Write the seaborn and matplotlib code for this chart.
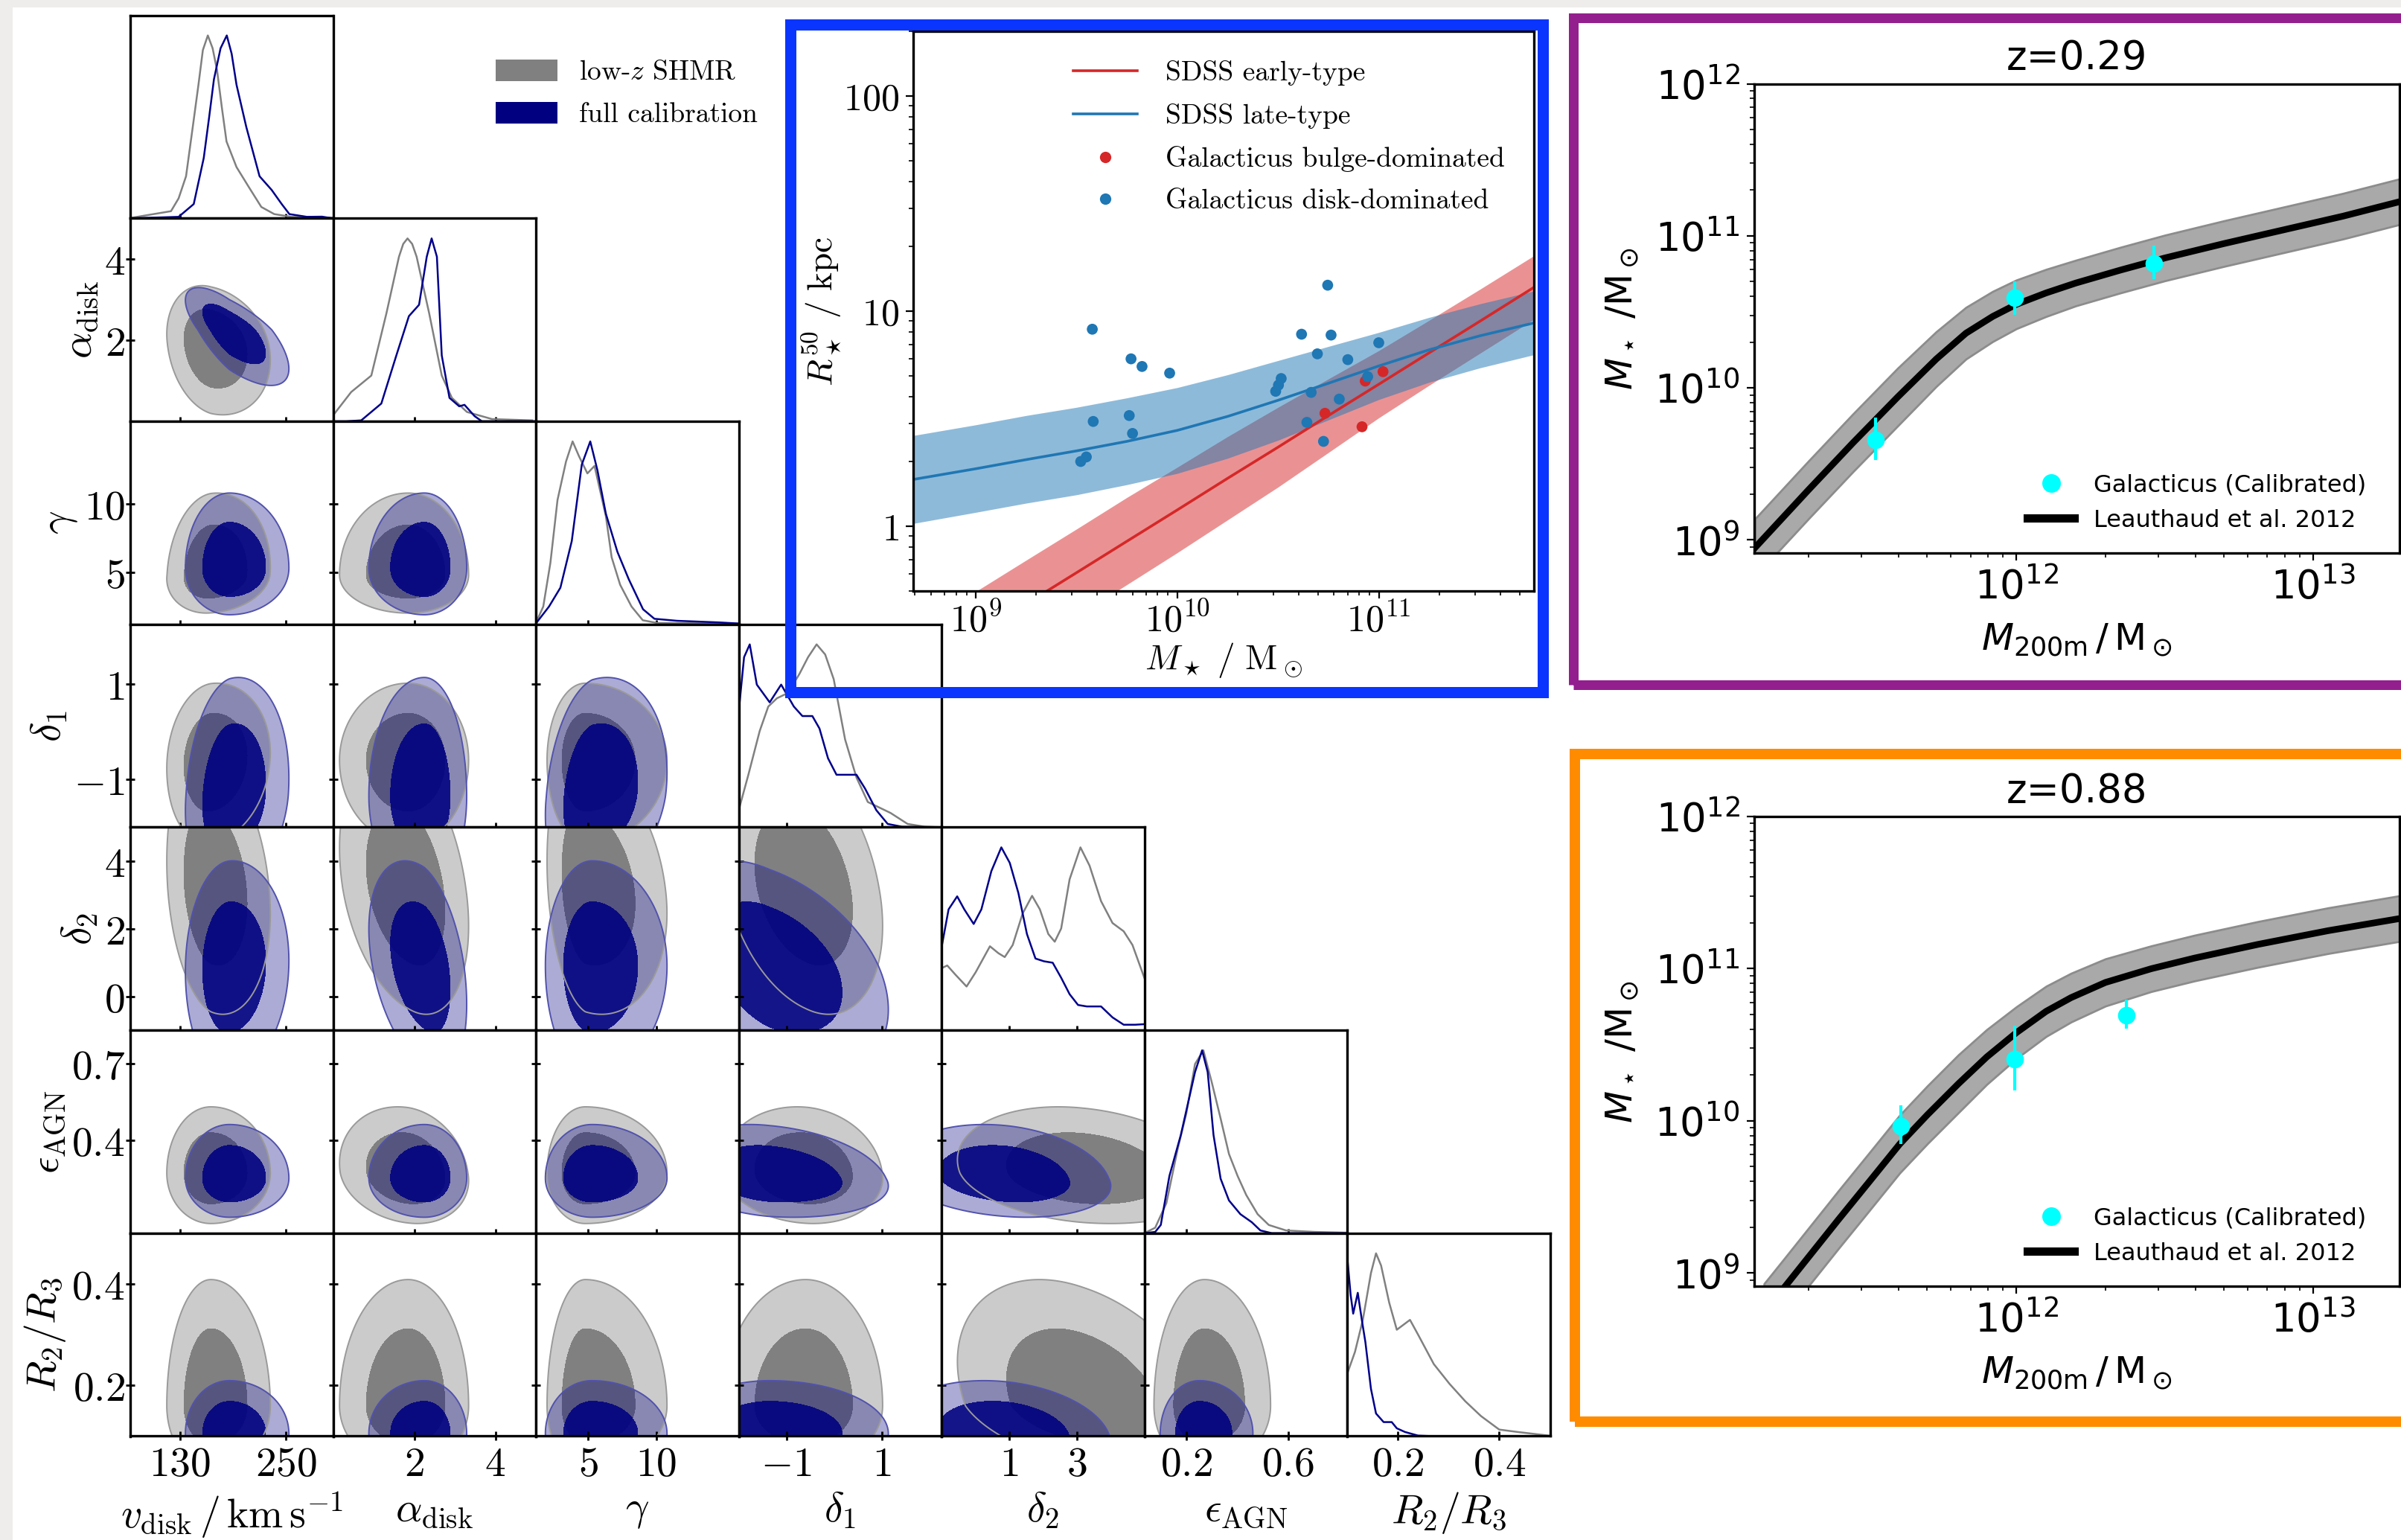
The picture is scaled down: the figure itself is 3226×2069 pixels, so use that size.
import numpy as np
import matplotlib
matplotlib.use("Agg")
import matplotlib.pyplot as plt
import seaborn as sns
from matplotlib.patches import Rectangle, Patch
from matplotlib.lines import Line2D
from matplotlib import ticker

plt.rcParams["mathtext.fontset"] = "cm"
plt.rcParams["axes.linewidth"] = 1.2

W, H, DPI = 3226, 2069, 200

# ---------------- corner plot: parameters ----------------
X_LABELS = [r"$v_{\mathrm{disk}}\,/\,\mathrm{km\,s^{-1}}$", r"$\alpha_{\mathrm{disk}}$", r"$\gamma$",
            r"$\delta_1$", r"$\delta_2$", r"$\epsilon_{\mathrm{AGN}}$", r"$R_2/R_3$"]
LIMITS = [(74, 303), (0, 5), (1.2, 16), (-2, 2.25), (-1, 5), (0.033, 0.833), (0.1, 0.5)]
X_TICKS = [[130, 250], [2, 4], [5, 10], [-1, 1], [1, 3], [0.2, 0.6], [0.2, 0.4]]
Y_TICKS = [[], [2, 4], [5, 10], [-1, 1], [0, 2, 4], [0.4, 0.7], [0.2, 0.4]]

# 2D posterior summaries: (mode, sigma below, sigma above)
LOWZ_SUMMARY = [(165, 20, 27), (1.85, 0.68, 0.6), (4.8, 1.12, 2.4), (-0.6, 0.7, 0.65),
                (3.2, 1.5, 1.6), (0.27, 0.08, 0.105), (0.16, 0.05, 0.1)]
FULL_SUMMARY = [(186, 20, 27), (2.25, 0.55, 0.42), (5.3, 1.37, 2.2), (-1.35, 0.8, 1.0),
                (0.9, 1.3, 1.25), (0.25, 0.062, 0.085), (0.105, 0.04, 0.042)]

# correlation of each lower-triangle pair (row parameter vs column parameter)
LOWZ_RHO = [[-0.2],
            [0.1, 0.0],
            [0.1, 0.0, 0.0],
            [-0.2, -0.3, -0.2, -0.3],
            [0.0, -0.15, 0.0, -0.1, -0.2],
            [0.0, 0.0, 0.0, 0.0, -0.35, 0.0]]
FULL_RHO = [[-0.7],
            [0.0, 0.0],
            [0.15, 0.0, 0.2],
            [0.05, -0.35, 0.0, -0.4],
            [0.0, 0.0, 0.0, -0.2, -0.2],
            [0.0, 0.0, 0.0, 0.0, -0.2, 0.0]]

# 1D marginals (peak normalised)
VDISK_LOWZ_X = [75.7, 120, 128.6, 137, 144.6, 151, 156, 161.6, 167, 172, 177.6, 182.7, 194, 208, 222, 236.6, 256, 302]
VDISK_LOWZ_Y = [0.003, 0.039, 0.109, 0.23, 0.5, 0.73, 0.92, 1.0, 0.93, 0.81, 0.6, 0.42, 0.28, 0.17, 0.062, 0.023, 0.008, 0.003]
VDISK_FULL_X = [75.7, 128.6, 145.7, 157, 163, 168.5, 176, 183, 188.5, 194, 205, 220, 233.7, 245, 253.7, 273.5, 290.6, 302]
VDISK_FULL_Y = [0.0, 0.008, 0.078, 0.33, 0.55, 0.76, 0.93, 1.0, 0.9, 0.73, 0.5, 0.23, 0.155, 0.078, 0.023, 0.008, 0.009, 0.0]

ALPHA_LOWZ_X = [0, 0.447, 0.943, 1.315, 1.625, 1.73, 1.836, 1.95, 2.06, 2.37, 2.68, 2.93, 3.3, 3.92, 4.91]
ALPHA_LOWZ_Y = [0.032, 0.16, 0.25, 0.59, 0.9, 0.97, 1.0, 0.97, 0.9, 0.59, 0.25, 0.128, 0.051, 0.012, 0.005]
ALPHA_FULL_X = [0, 0.32, 0.695, 1.19, 1.56, 1.87, 2.12, 2.31, 2.43, 2.56, 2.68, 2.87, 3.11, 3.24, 3.49, 3.67, 5]
ALPHA_FULL_Y = [0, 0, 0.005, 0.097, 0.36, 0.575, 0.637, 0.9, 1.0, 0.9, 0.36, 0.128, 0.082, 0.09, 0.028, 0, 0]

GAMMA_LOWZ_X = [1.2, 1.74, 2.26, 2.78, 3.4, 3.88, 4.34, 4.96, 5.48, 6.31, 6.73, 7.35, 8.18, 9.0, 10.05, 15.9]
GAMMA_LOWZ_Y = [0.007, 0.097, 0.336, 0.68, 0.89, 1.0, 0.92, 0.825, 0.866, 0.59, 0.366, 0.216, 0.097, 0.022, 0.007, 0.004]
GAMMA_FULL_X = [1.2, 2.16, 2.99, 3.82, 4.55, 5.17, 5.69, 6.31, 7.15, 7.98, 9.02, 9.85, 11.5, 14.6, 16]
GAMMA_FULL_Y = [0.004, 0.097, 0.2, 0.455, 0.873, 1.0, 0.843, 0.604, 0.396, 0.246, 0.082, 0.03, 0.019, 0.01, 0.004]

DELTA1_LOWZ_X = [-2, -1.797, -1.56, -1.38, -1.2, -0.963, -0.724, -0.546, -0.367, -0.188, -0.009, 0.23, 0.468, 0.706, 0.945, 1.183, 1.54, 1.9, 2.25]
DELTA1_LOWZ_Y = [0.093, 0.287, 0.526, 0.66, 0.705, 0.735, 0.84, 0.93, 1.0, 0.945, 0.81, 0.48, 0.272, 0.138, 0.108, 0.078, 0.018, 0.003, 0]
DELTA1_FULL_X = [-2, -1.887, -1.768, -1.62, -1.35, -1.11, -0.844, -0.665, -0.456, -0.307, -0.128, 0.05, 0.23, 0.468, 0.647, 0.885, 1.123, 1.42, 2.25]
DELTA1_FULL_Y = [0.63, 0.93, 1.0, 0.78, 0.683, 0.78, 0.66, 0.608, 0.608, 0.54, 0.377, 0.287, 0.287, 0.287, 0.212, 0.093, 0.018, 0.003, 0]

DELTA2_LOWZ_X = [-1, -0.83, -0.579, -0.258, 0.011, 0.433, 0.685, 0.871, 1.107, 1.40, 1.68, 1.91, 2.16, 2.35, 2.54, 2.79, 3.11, 3.38, 3.72, 4.06, 4.39, 4.65, 5]
DELTA2_LOWZ_Y = [0.339, 0.354, 0.302, 0.239, 0.317, 0.459, 0.421, 0.4, 0.466, 0.638, 0.735, 0.661, 0.526, 0.484, 0.556, 0.825, 1.0, 0.9, 0.706, 0.586, 0.541, 0.466, 0.287]
DELTA2_FULL_X = [-1, -0.79, -0.536, -0.326, -0.048, 0.18, 0.475, 0.77, 1.02, 1.275, 1.528, 1.78, 2.03, 2.29, 2.54, 2.79, 3.04, 3.3, 3.72, 4.06, 4.39, 4.73, 5]
DELTA2_FULL_Y = [0.451, 0.661, 0.732, 0.661, 0.581, 0.661, 0.87, 1.0, 0.915, 0.75, 0.526, 0.392, 0.377, 0.369, 0.287, 0.197, 0.138, 0.13, 0.13, 0.07, 0.03, 0.03, 0.033]

EPS_LOWZ_X = [0.033, 0.076, 0.12, 0.165, 0.199, 0.233, 0.266, 0.3, 0.334, 0.367, 0.401, 0.435, 0.48, 0.524, 0.592, 0.704, 0.827]
EPS_LOWZ_Y = [0, 0.03, 0.164, 0.463, 0.657, 0.925, 1.0, 0.82, 0.627, 0.433, 0.313, 0.209, 0.104, 0.045, 0.015, 0.007, 0.003]
EPS_FULL_X = [0.033, 0.076, 0.098, 0.132, 0.177, 0.199, 0.233, 0.261, 0.283, 0.306, 0.334, 0.367, 0.412, 0.457, 0.491, 0.536, 0.833]
EPS_FULL_Y = [0, 0.007, 0.045, 0.313, 0.537, 0.672, 0.881, 1.0, 0.881, 0.537, 0.298, 0.179, 0.104, 0.06, 0.015, 0, 0]

R23_LOWZ_X = [0.1, 0.1155, 0.131, 0.147, 0.157, 0.167, 0.183, 0.198, 0.211, 0.224, 0.24, 0.271, 0.302, 0.333, 0.364, 0.4, 0.436, 0.498]
R23_LOWZ_Y = [0.34, 0.461, 0.636, 0.892, 1.0, 0.933, 0.73, 0.582, 0.609, 0.636, 0.555, 0.394, 0.286, 0.191, 0.11, 0.036, 0.023, 0.003]
R23_FULL_X = [0.1, 0.107, 0.112, 0.121, 0.129, 0.136, 0.147, 0.157, 0.172, 0.188, 0.198, 0.214, 0.24, 0.27, 0.5]
R23_FULL_Y = [0.987, 0.771, 0.67, 0.784, 0.636, 0.515, 0.259, 0.124, 0.077, 0.077, 0.043, 0.023, 0.003, 0, 0]

# ---------------- size-mass inset ----------------
SDSS_LOGM = [8.69, 9.0, 9.25, 9.5, 9.75, 10.0, 10.25, 10.5, 10.75, 11.0, 11.25, 11.5, 11.77]
EARLY_MED = [0.205, 0.310, 0.435, 0.608, 0.851, 1.19, 1.67, 2.33, 3.27, 4.57, 6.40, 8.95, 12.9]
EARLY_LO = [0.128, 0.194, 0.272, 0.381, 0.535, 0.753, 1.07, 1.52, 2.20, 3.19, 4.52, 6.35, 9.16]
EARLY_HI = [0.327, 0.497, 0.695, 0.970, 1.36, 1.88, 2.61, 3.57, 4.84, 6.55, 9.06, 12.6, 18.1]
LATE_MED = [1.65, 1.85, 2.04, 2.24, 2.48, 2.79, 3.24, 3.85, 4.62, 5.56, 6.61, 7.67, 8.81]
LATE_LO = [1.03, 1.16, 1.28, 1.40, 1.56, 1.76, 2.07, 2.51, 3.12, 3.88, 4.67, 5.44, 6.27]
LATE_HI = [2.64, 2.96, 3.27, 3.57, 3.95, 4.41, 5.06, 5.89, 6.85, 7.96, 9.35, 10.8, 12.4]

BULGE_MSTAR = [5.41e10, 8.57e10, 1.05e11, 8.26e10]
BULGE_R50 = [3.35, 4.73, 5.23, 2.90]
DISK_MSTAR = [3.79e9, 5.90e9, 6.69e9, 9.17e9, 3.83e9, 5.78e9, 6.00e9, 3.54e9, 3.32e9, 5.58e10, 4.14e10, 5.80e10,
              4.96e10, 1.0e11, 7.02e10, 3.28e10, 3.18e10, 3.08e10, 4.62e10, 8.81e10, 6.37e10, 4.40e10, 5.32e10]
DISK_R50 = [8.24, 6.0, 5.53, 5.15, 3.07, 3.27, 2.70, 2.10, 2.0, 13.2, 7.81, 7.74,
            6.33, 7.13, 5.95, 4.86, 4.53, 4.24, 4.19, 4.96, 3.90, 3.04, 2.48]

# ---------------- SHMR panels (log10 values) ----------------
L12_LOGMH_Z029 = [11.12, 11.3, 11.45, 11.6, 11.73, 11.83, 11.92, 12.0, 12.1, 12.2, 12.35, 12.5, 12.7, 12.9, 13.1, 13.3]
L12_LOGMS_Z029 = [8.95, 9.33, 9.64, 9.94, 10.19, 10.36, 10.47, 10.55, 10.625, 10.69, 10.775, 10.855, 10.95, 11.04, 11.13, 11.23]
L12_WIDTH_Z029 = [0.19, 0.19, 0.19, 0.19, 0.18, 0.17, 0.165, 0.16, 0.155, 0.15, 0.15, 0.15, 0.15, 0.15, 0.15, 0.15]
GAL_LOGMH_Z029 = [11.526, 11.994, 12.463]
GAL_LOGMS_Z029 = [9.660, 10.591, 10.820]
GAL_LO_Z029 = [9.528, 10.482, 10.717]
GAL_HI_Z029 = [9.807, 10.702, 10.937]

L12_LOGMH_Z088 = [11.15, 11.22, 11.4, 11.5, 11.607, 11.7, 11.805, 11.9, 12.0, 12.1, 12.184, 12.3, 12.454, 12.6, 12.814, 13.05, 13.292]
L12_LOGMS_Z088 = [8.74, 8.91, 9.35, 9.59, 9.848, 10.04, 10.245, 10.42, 10.58, 10.72, 10.81, 10.91, 11.0, 11.07, 11.16, 11.25, 11.33]
L12_WIDTH_Z088 = [0.19, 0.19, 0.19, 0.19, 0.19, 0.19, 0.19, 0.18, 0.17, 0.165, 0.16, 0.155, 0.15, 0.15, 0.15, 0.15, 0.15]
GAL_LOGMH_Z088 = [11.611, 11.994, 12.369]
GAL_LOGMS_Z088 = [9.966, 10.406, 10.694]
GAL_LO_Z088 = [9.848, 10.2, 10.606]
GAL_HI_Z088 = [10.104, 10.626, 10.796]

LOWZ_1D = [(VDISK_LOWZ_X, VDISK_LOWZ_Y), (ALPHA_LOWZ_X, ALPHA_LOWZ_Y), (GAMMA_LOWZ_X, GAMMA_LOWZ_Y),
           (DELTA1_LOWZ_X, DELTA1_LOWZ_Y), (DELTA2_LOWZ_X, DELTA2_LOWZ_Y), (EPS_LOWZ_X, EPS_LOWZ_Y),
           (R23_LOWZ_X, R23_LOWZ_Y)]
FULL_1D = [(VDISK_FULL_X, VDISK_FULL_Y), (ALPHA_FULL_X, ALPHA_FULL_Y), (GAMMA_FULL_X, GAMMA_FULL_Y),
           (DELTA1_FULL_X, DELTA1_FULL_Y), (DELTA2_FULL_X, DELTA2_FULL_Y), (EPS_FULL_X, EPS_FULL_Y),
           (R23_FULL_X, R23_FULL_Y)]

GREY_LINE = "#808080"
NAVY = "#000080"
L95 = np.exp(-0.5 * 6.18)
L68 = np.exp(-0.5 * 2.30)


def split_density(xg, yg, sx, sy, rho):
    """2D split-normal built from the read summaries."""
    u = np.where(xg < sx[0], (xg - sx[0]) / sx[1], (xg - sx[0]) / sx[2])
    v = np.where(yg < sy[0], (yg - sy[0]) / sy[1], (yg - sy[0]) / sy[2])
    q = (u * u - 2 * rho * u * v + v * v) / (1 - rho * rho)
    return np.exp(-0.5 * q)


def fig_rect(x0, y0, x1, y1):
    return [x0 / W, 1 - y1 / H, (x1 - x0) / W, (y1 - y0) / H]


def tex(v):
    return r"$%g$" % v


fig = plt.figure(figsize=(W / DPI, H / DPI), dpi=DPI, facecolor="#eeedeb")
fig.add_artist(Rectangle((17 / W, 0), 1, 1 - 10 / H, transform=fig.transFigure,
                         facecolor="white", edgecolor="none", zorder=-10))

# ---------------- corner plot ----------------
CX0, CY0, CW, CH = 175.0, 20.6, 272.5, 272.7
for j in range(7):
    for i in range(j + 1):
        ax = fig.add_axes(fig_rect(CX0 + CW * i, CY0 + CH * j, CX0 + CW * (i + 1), CY0 + CH * (j + 1)))
        if i == j:
            sns.lineplot(x=LOWZ_1D[i][0], y=LOWZ_1D[i][1], ax=ax, color=GREY_LINE, lw=0.9,
                         sort=False, estimator=None)
            sns.lineplot(x=FULL_1D[i][0], y=FULL_1D[i][1], ax=ax, color="#00008b", lw=0.9,
                         sort=False, estimator=None)
            ax.set_ylim(0, 1.11)
            ax.set_yticks([])
        else:
            xg = np.linspace(LIMITS[i][0], LIMITS[i][1], 220)
            yg = np.linspace(LIMITS[j][0], LIMITS[j][1], 220)
            XX, YY = np.meshgrid(xg, yg)
            dg = split_density(XX, YY, LOWZ_SUMMARY[i], LOWZ_SUMMARY[j], LOWZ_RHO[j - 1][i])
            db = split_density(XX, YY, FULL_SUMMARY[i], FULL_SUMMARY[j], FULL_RHO[j - 1][i])
            ax.contourf(XX, YY, dg, levels=[L95, L68, 2], colors=["#cbcbcb", "#808080"])
            ax.contour(XX, YY, dg, levels=[L95], colors="#9a9a9a", linewidths=0.7)
            ax.contourf(XX, YY, db, levels=[L95, 2], colors=[NAVY], alpha=0.33)
            ax.contour(XX, YY, db, levels=[L95], colors="#5252ad", linewidths=0.7)
            ax.contourf(XX, YY, db, levels=[L68, 2], colors=[NAVY], alpha=0.88)
            ax.set_ylim(LIMITS[j])
            ax.set_yticks(Y_TICKS[j])
            if i == 0:
                ax.set_yticklabels([tex(t) for t in Y_TICKS[j]])
                ax.set_ylabel(X_LABELS[j], fontsize=20, labelpad=2)
            else:
                ax.set_yticklabels([])
        ax.set_xlim(LIMITS[i])
        ax.set_xticks(X_TICKS[i])
        if j == 6:
            ax.set_xticklabels([tex(t) for t in X_TICKS[i]])
            ax.set_xlabel(X_LABELS[i], fontsize=20, labelpad=2.5)
        else:
            ax.set_xticklabels([])
        ax.tick_params(direction="inout", length=4.2, width=1.0, labelsize=20)
        ax.tick_params(axis="x", pad=2)
        ax.tick_params(axis="y", pad=0.5)
        for s in ax.spines.values():
            s.set_linewidth(1.2)
            s.set_color("black")

fig.legend([Patch(facecolor="#808080"), Patch(facecolor=NAVY)],
           ["low-$z$ SHMR", "full calibration"],
           loc="upper left", bbox_to_anchor=(666 / W, 1 - 80 / H), frameon=False,
           prop={"family": "cmr10", "size": 13.5}, handlelength=2.2, handleheight=0.8,
           handletextpad=0.8, labelspacing=0.6, borderpad=0, borderaxespad=0)

# ---------------- size-mass inset ----------------
ax = fig.add_axes(fig_rect(1227, 42, 2061, 794))
ax.set_xscale("log")
ax.set_yscale("log")
sdss_m = 10 ** np.array(SDSS_LOGM)
ax.fill_between(sdss_m, EARLY_LO, EARLY_HI, color="#d62728", alpha=0.5, lw=0)
ax.fill_between(sdss_m, LATE_LO, LATE_HI, color="#1f77b4", alpha=0.5, lw=0)
sns.lineplot(x=sdss_m, y=EARLY_MED, ax=ax, color="#d62728", lw=1.3, estimator=None)
sns.lineplot(x=sdss_m, y=LATE_MED, ax=ax, color="#1f77b4", lw=1.3, estimator=None)
sns.scatterplot(x=BULGE_MSTAR, y=BULGE_R50, ax=ax, color="#d62728", s=28, edgecolor="none", zorder=4)
sns.scatterplot(x=DISK_MSTAR, y=DISK_R50, ax=ax, color="#1f77b4", s=28, edgecolor="none", zorder=4)
ax.set_xlim(10 ** 8.69, 10 ** 11.77)
ax.set_ylim(0.5, 200)
ax.xaxis.set_major_locator(ticker.FixedLocator([1e9, 1e10, 1e11]))
ax.xaxis.set_major_formatter(ticker.FuncFormatter(lambda v, p: r"$10^{%d}$" % round(np.log10(v))))
ax.yaxis.set_major_locator(ticker.FixedLocator([1, 10, 100]))
ax.yaxis.set_major_formatter(ticker.FuncFormatter(lambda v, p: r"$%g$" % v))
ax.xaxis.set_minor_formatter(ticker.NullFormatter())
ax.yaxis.set_minor_formatter(ticker.NullFormatter())
ax.tick_params(labelsize=18)
ax.tick_params(axis="x", pad=2)
ax.set_xlabel(r"$M_\star\ /\ \mathrm{M}_\odot$", fontsize=17, labelpad=1)
ax.set_ylabel(r"$R_\star^{50}\ /\ \mathrm{kpc}$", fontsize=17, labelpad=0)
ax.legend([Line2D([], [], color="#d62728", lw=1.3), Line2D([], [], color="#1f77b4", lw=1.3),
           Line2D([], [], marker="o", ls="", color="#d62728", ms=5.5, mec="none"),
           Line2D([], [], marker="o", ls="", color="#1f77b4", ms=5.5, mec="none")],
          ["SDSS early-type", "SDSS late-type", "Galacticus bulge-dominated", "Galacticus disk-dominated"],
          loc="upper right", frameon=False, prop={"family": "cmr10", "size": 13.5},
          handlelength=2.3, handletextpad=1.0, labelspacing=0.62, borderaxespad=0.65)

# ---------------- SHMR panels ----------------
with plt.rc_context({"mathtext.fontset": "dejavusans", "font.family": "DejaVu Sans"}):
    panels = [((112.7, 743.4), "z=0.29", L12_LOGMH_Z029, L12_LOGMS_Z029, L12_WIDTH_Z029,
               GAL_LOGMH_Z029, GAL_LOGMS_Z029, GAL_LO_Z029, GAL_HI_Z029),
              ((1097.0, 1728.4), "z=0.88", L12_LOGMH_Z088, L12_LOGMS_Z088, L12_WIDTH_Z088,
               GAL_LOGMH_Z088, GAL_LOGMS_Z088, GAL_LO_Z088, GAL_HI_Z088)]
    for (top, bot), title, lmh, lms, lw_, gmh, gms, glo, ghi in panels:
        ax = fig.add_axes(fig_rect(2357, top, 3224, bot))
        ax.set_xscale("log")
        ax.set_yscale("log")
        mh = 10 ** np.array(lmh)
        ms = np.array(lms)
        wd = np.array(lw_)
        ax.fill_between(mh, 10 ** (ms - wd), 10 ** (ms + wd), facecolor="#a9a9a9",
                        edgecolor="#8c8c8c", lw=1.0)
        sns.lineplot(x=mh, y=10 ** ms, ax=ax, color="black", lw=3.2, estimator=None)
        gy = 10 ** np.array(gms)
        ax.errorbar(10 ** np.array(gmh), gy,
                    yerr=[gy - 10 ** np.array(glo), 10 ** np.array(ghi) - gy],
                    fmt="o", color="cyan", ms=7.5, elinewidth=1.5, capsize=0, zorder=5)
        ax.set_xlim(10 ** 11.117, 10 ** 13.29)
        ax.set_ylim(10 ** 8.912, 1e12)
        ax.set_title(title, fontsize=19, pad=7)
        ax.set_xlabel(r"$M_{\mathrm{200m}}\,/\,\mathrm{M}_\odot$", fontsize=18, labelpad=7)
        ax.set_ylabel(r"$M_\star\ /\mathrm{M}_\odot$", fontsize=18, labelpad=7)
        ax.tick_params(which="major", labelsize=19)
        ax.legend([Line2D([], [], marker="o", ls="", color="cyan", ms=8),
                   Line2D([], [], color="black", lw=4)],
                  ["Galacticus (Calibrated)", "Leauthaud et al. 2012"],
                  loc="lower right", bbox_to_anchor=(1 - 16 / 867, 0), frameon=False, fontsize=11.5)
        ax.get_xticklabels(which="both")
        ax.get_yticklabels(which="both")

# ---------------- coloured frames ----------------
def frame(x0, y0, x1, y1, color, lw_px):
    fig.add_artist(Rectangle((x0 / W, 1 - y1 / H), (x1 - x0) / W, (y1 - y0) / H,
                             transform=fig.transFigure, fill=False, edgecolor=color,
                             lw=lw_px * 72 / DPI, zorder=5))


frame(1061.5, 33, 2073, 929.5, "#0a35ff", 15)
frame(2113.5, 23.5, 3300, 920, "#931f8e", 13)
frame(2116, 1012.5, 3300, 1909.5, "#ff8c00", 14)

fig.savefig("out.png", dpi=DPI, facecolor=fig.get_facecolor())
